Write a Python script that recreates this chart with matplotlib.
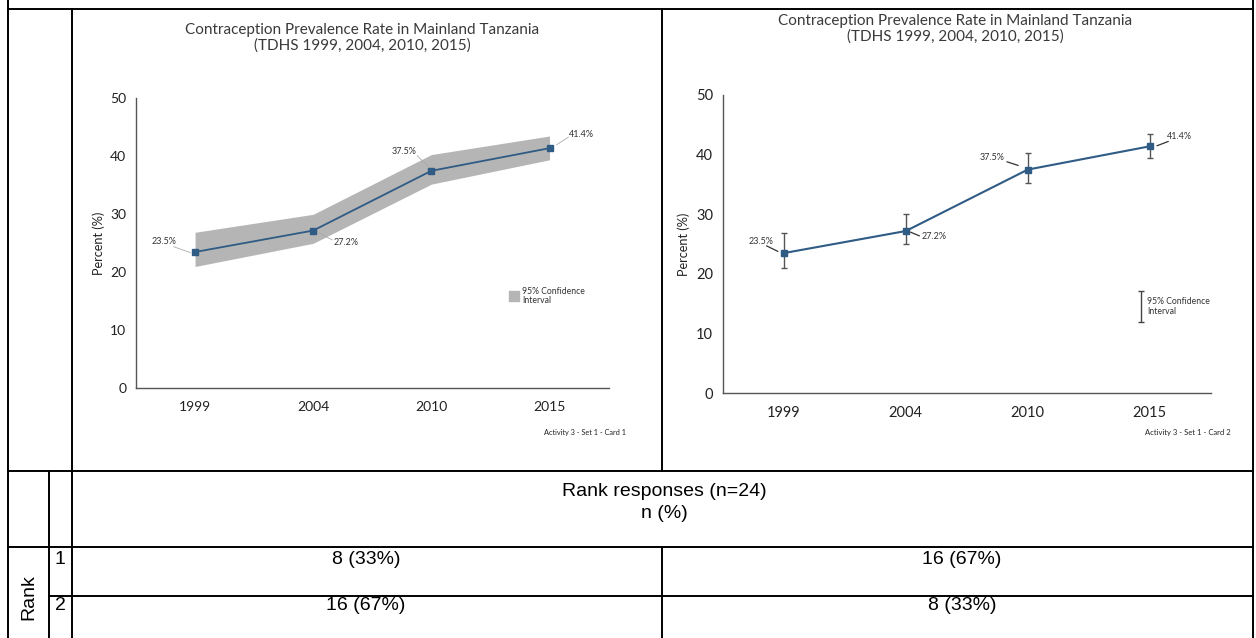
import matplotlib
matplotlib.use("Agg")
import matplotlib.pyplot as plt
from matplotlib.lines import Line2D

# ---------------- data ----------------
years = ["1999", "2004", "2010", "2015"]
cpr = [23.5, 27.2, 37.5, 41.4]
ci_low = [21.0, 25.0, 35.2, 39.4]
ci_high = [26.9, 30.0, 40.3, 43.5]
value_labels = ["23.5%", "27.2%", "37.5%", "41.4%"]
yticks = [0, 10, 20, 30, 40, 50]

n_resp = 24
card1_counts = [8, 16]   # rank 1, rank 2
card2_counts = [16, 8]
rank_labels = ["1", "2"]

chart_title = "Contraception Prevalence Rate in Mainland Tanzania\n(TDHS 1999, 2004, 2010, 2015)"

W, H = 1256, 638
fig = plt.figure(figsize=(W / 100, H / 100), dpi=100)
fig.patch.set_facecolor("white")

CHART_FONT = ["Lato", "DejaVu Sans"]
TABLE_FONT = ["Liberation Sans", "DejaVu Sans"]
LINE_C = "#2f5b85"
TXT_C = "#333333"
TABLE_FS = 14


def fx(x):
    return x / W


def fy(y):
    return 1 - y / H


def add_axes_px(x0, x1, ytop, ybot):
    return fig.add_axes([fx(x0), fy(ybot), (x1 - x0) / W, (ybot - ytop) / H])


def style_axes(ax, tick_fs):
    ax.set_xlim(-0.5, 3.5)
    ax.set_ylim(0, 50)
    ax.set_xticks(range(len(years)))
    ax.set_xticklabels(years, fontfamily=CHART_FONT, fontsize=tick_fs, color="#222222")
    ax.set_yticks(yticks)
    ax.set_yticklabels([str(t) for t in yticks], fontfamily=CHART_FONT, fontsize=tick_fs, color="#222222")
    ax.tick_params(axis="both", length=0)
    ax.tick_params(axis="y", pad=7)
    ax.tick_params(axis="x", pad=9)
    for s in ["top", "right"]:
        ax.spines[s].set_visible(False)
    for s in ["left", "bottom"]:
        ax.spines[s].set_color("#555555")
        ax.spines[s].set_linewidth(1.0)
    ax.set_ylabel("Percent (%)", fontfamily=CHART_FONT, fontsize=9.2, color="#222222", labelpad=4)
    ax.set_facecolor("white")


x = list(range(len(years)))

# ---------------- left chart (band) ----------------
ax1 = add_axes_px(136, 608.6, 98.3, 388.3)
style_axes(ax1, 10)
ax1.fill_between(x, ci_low, ci_high, color="#b5b5b5", linewidth=0, zorder=1)
ax1.plot(x, cpr, color=LINE_C, lw=1.3, marker="s", ms=4, zorder=3)
lab_pos1 = [(-0.26, 25.3), (1.28, 25.1), (1.77, 40.8), (3.27, 43.7)]
lead1 = [((-0.18, 24.4), (-0.04, 23.4)), ((1.03, 27.0), (1.16, 25.6)),
         ((1.88, 40.1), (1.99, 37.9)), ((3.06, 42.0), (3.16, 43.3))]
for lbl, (lx, ly), ((ax_, ay_), (bx_, by_)) in zip(value_labels, lab_pos1, lead1):
    ax1.text(lx, ly, lbl, fontfamily=CHART_FONT, fontsize=6.5, color=TXT_C, ha="center", va="center")
    ax1.plot([ax_, bx_], [ay_, by_], color="#aaaaaa", lw=0.6, zorder=2)
ax1.scatter([2.70], [15.9], marker="s", s=55, color="#b5b5b5", zorder=3)
ax1.text(2.77, 15.9, "95% Confidence\nInterval", fontfamily=CHART_FONT, fontsize=6.2,
         color=TXT_C, ha="left", va="center", linespacing=1.1)

# ---------------- right chart (error bars) ----------------
ax2 = add_axes_px(722.8, 1210.8, 95, 393.3)
style_axes(ax2, 10.5)
yerr = [[c - l for c, l in zip(cpr, ci_low)], [h - c for c, h in zip(cpr, ci_high)]]
ax2.errorbar(x, cpr, yerr=yerr, fmt="none", ecolor="#555555", elinewidth=1.0, capsize=2.2, capthick=1.0, zorder=2)
ax2.plot(x, cpr, color=LINE_C, lw=1.5, marker="s", ms=4.5, zorder=3)
lab_pos2 = [(-0.19, 25.5), (1.23, 26.3), (1.71, 39.6), (3.24, 43.0)]
lead2 = [((-0.14, 24.7), (-0.05, 23.8)), ((1.04, 27.0), (1.11, 26.4)),
         ((1.83, 38.8), (1.92, 38.2)), ((3.06, 41.5), (3.15, 42.2))]
for lbl, (lx, ly), ((ax_, ay_), (bx_, by_)) in zip(value_labels, lab_pos2, lead2):
    ax2.text(lx, ly, lbl, fontfamily=CHART_FONT, fontsize=6.5, color=TXT_C, ha="center", va="center")
    ax2.plot([ax_, bx_], [ay_, by_], color="#333333", lw=0.9, zorder=2)
ax2.errorbar([2.93], [14.55], yerr=[[2.65], [2.65]], fmt="none", ecolor="#444444",
             elinewidth=1.0, capsize=2, capthick=1.0)
ax2.text(2.975, 14.5, "95% Confidence\nInterval", fontfamily=CHART_FONT, fontsize=6.2,
         color=TXT_C, ha="left", va="center", linespacing=1.1)

# titles and card captions
fig.text(fx(362), fy(38), chart_title, fontfamily=CHART_FONT, fontsize=11, color="#3a3a3a",
         ha="center", va="center", linespacing=1.1)
fig.text(fx(955), fy(29), chart_title, fontfamily=CHART_FONT, fontsize=11, color="#3a3a3a",
         ha="center", va="center", linespacing=1.1)
fig.text(fx(585), fy(432), "Activity 3 - Set 1 - Card 1", fontfamily=CHART_FONT, fontsize=5.3,
         color="#222222", ha="center", va="center")
fig.text(fx(1188), fy(433), "Activity 3 - Set 1 - Card 2", fontfamily=CHART_FONT, fontsize=5.5,
         color="#222222", ha="center", va="center")

# ---------------- table grid ----------------
def hline(y, x0, x1):
    fig.add_artist(Line2D([fx(x0), fx(x1)], [fy(y), fy(y)], transform=fig.transFigure,
                          color="black", lw=1.4))


def vline(x_, y0, y1):
    fig.add_artist(Line2D([fx(x_), fx(x_)], [fy(y0), fy(y1)], transform=fig.transFigure,
                          color="black", lw=1.4))


hline(9, 8, 1253)
hline(471, 8, 1253)
hline(547, 8, 1253)
hline(596, 49, 1253)
vline(8, 0, 638)
vline(1253, 0, 638)
vline(72, 9, 638)
vline(662, 9, 471)
vline(662, 547, 638)
vline(49, 471, 638)

# ---------------- table text ----------------
fig.text(fx(664), fy(491), f"Rank responses (n={n_resp})", fontfamily=TABLE_FONT, fontsize=TABLE_FS,
         ha="center", va="center", color="black")
fig.text(fx(664), fy(513), "n (%)", fontfamily=TABLE_FONT, fontsize=TABLE_FS, ha="center", va="center",
         color="black")
fig.text(fx(29), fy(597), "Rank", fontfamily=TABLE_FONT, fontsize=TABLE_FS, ha="center", va="center",
         rotation=90, color="black")

row_y = [560, 605]
for i, (rl, c1, c2) in enumerate(zip(rank_labels, card1_counts, card2_counts)):
    fig.text(fx(60), fy(row_y[i]), rl, fontfamily=TABLE_FONT, fontsize=TABLE_FS, ha="center", va="center")
    fig.text(fx(366), fy(row_y[i]), f"{c1} ({round(100 * c1 / n_resp)}%)", fontfamily=TABLE_FONT,
             fontsize=TABLE_FS, ha="center", va="center")
    fig.text(fx(962), fy(row_y[i]), f"{c2} ({round(100 * c2 / n_resp)}%)", fontfamily=TABLE_FONT,
             fontsize=TABLE_FS, ha="center", va="center")

fig.savefig("out.png", dpi=100)
